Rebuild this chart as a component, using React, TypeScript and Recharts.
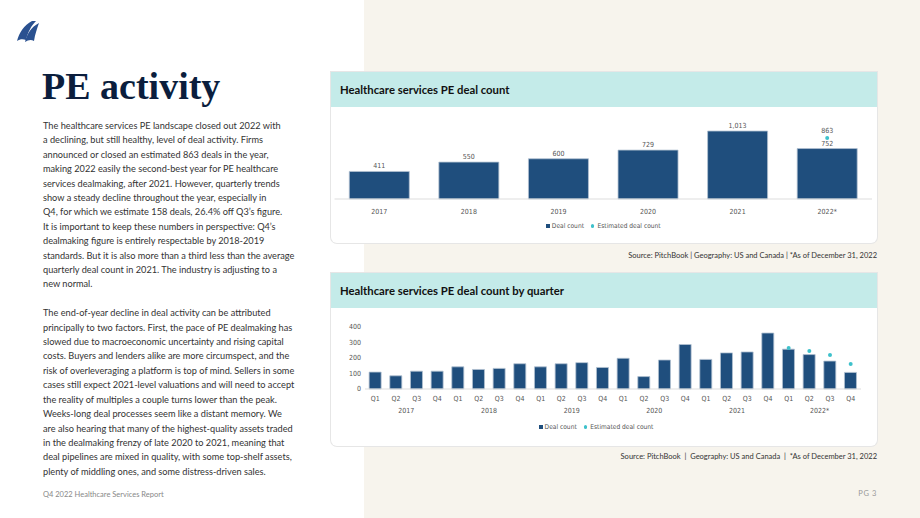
import React from 'react';
import { ComposedChart, Bar, Line, XAxis, YAxis, LabelList, Legend } from 'recharts';

// annual deal count
const years = ['2017', '2018', '2019', '2020', '2021', '2022*'];
const annualDeals = [411, 550, 600, 729, 1013, 752];
const annualEstimated = [null, null, null, null, null, 863];

// quarterly deal count
const quarters = ['Q1', 'Q2', 'Q3', 'Q4'];
const quarterYears = ['2017', '2018', '2019', '2020', '2021', '2022*'];
const quarterlyDeals = [
  109, 85, 115, 115,
  143, 126, 133, 163,
  143, 163, 170, 139,
  198, 80, 187, 287,
  191, 233, 239, 361,
  257, 222, 180, 107,
];
const quarterlyEstimated = [
  null, null, null, null,
  null, null, null, null,
  null, null, null, null,
  null, null, null, null,
  null, null, null, null,
  264, 245, 220, 162,
];
const quarterTicks = [0, 100, 200, 300, 400];

const annualData = years.map((y, i) => ({ year: y, deals: annualDeals[i], est: annualEstimated[i] }));
const quarterData = quarterlyDeals.map((v, i) => ({
  key: quarterYears[Math.floor(i / 4)] + '|' + quarters[i % 4],
  deals: v,
  est: quarterlyEstimated[i],
}));

const NAVY = '#1f4e7d';
const CYAN = '#3ec1cb';
const AXIS_FONT = "'Liberation Sans Narrow', 'DejaVu Sans Condensed', sans-serif";
const BODY_FONT = "Lato, 'Open Sans', sans-serif";

const CARD_W = 546;
const Q_H = 138;
const Q_MARGIN = { top: 19, right: 16, left: 0, bottom: 13 };
const Q_YAXIS_W = 34;
const Q_BAND = (CARD_W - Q_MARGIN.left - Q_MARGIN.right - Q_YAXIS_W) / quarterData.length;

const para1 = [
  'The healthcare services PE landscape closed out 2022 with',
  'a declining, but still healthy, level of deal activity. Firms',
  'announced or closed an estimated 863 deals in the year,',
  'making 2022 easily the second-best year for PE healthcare',
  'services dealmaking, after 2021. However, quarterly trends',
  'show a steady decline throughout the year, especially in',
  'Q4, for which we estimate 158 deals, 26.4% off Q3\u2019s figure.',
  'It is important to keep these numbers in perspective: Q4\u2019s',
  'dealmaking figure is entirely respectable by 2018-2019',
  'standards. But it is also more than a third less than the average',
  'quarterly deal count in 2021. The industry is adjusting to a',
  'new normal.',
];
const para2 = [
  'The end-of-year decline in deal activity can be attributed',
  'principally to two factors. First, the pace of PE dealmaking has',
  'slowed due to macroeconomic uncertainty and rising capital',
  'costs. Buyers and lenders alike are more circumspect, and the',
  'risk of overleveraging a platform is top of mind. Sellers in some',
  'cases still expect 2021-level valuations and will need to accept',
  'the reality of multiples a couple turns lower than the peak.',
  'Weeks-long deal processes seem like a distant memory. We',
  'are also hearing that many of the highest-quality assets traded',
  'in the dealmaking frenzy of late 2020 to 2021, meaning that',
  'deal pipelines are mixed in quality, with some top-shelf assets,',
  'plenty of middling ones, and some distress-driven sales.',
];

// estimated-count marker; lift nudges it clear of the bar label
const EstDot = (props: any) => {
  const { cx, cy, value, lift = 0 } = props;
  if (value == null || cy == null || isNaN(cy)) return null;
  return <circle cx={cx} cy={cy - lift} r={2} fill={CYAN} />;
};

const LegendContent = () => (
  <div style={{ height: 12, display: 'flex', justifyContent: 'center', alignItems: 'center', fontFamily: AXIS_FONT, fontSize: 6.6, color: '#555' }}>
    <span style={{ display: 'inline-block', width: 4, height: 4, background: NAVY, marginRight: 2 }} />
    <span>Deal count</span>
    <span style={{ display: 'inline-block', width: 3.5, height: 3.5, borderRadius: '50%', background: CYAN, marginLeft: 7, marginRight: 3 }} />
    <span>Estimated deal count</span>
  </div>
);

const QuarterTick = (props: any) => {
  const { x, y, payload, index } = props;
  const [yr, q] = String(payload.value).split('|');
  return (
    <g>
      <text x={x} y={y + 10} textAnchor="middle" fontSize={7} fill="#555" fontFamily={AXIS_FONT}>{q}</text>
      {index % 4 === 1 && (
        <text x={x + Q_BAND / 2} y={y + 22} textAnchor="middle" fontSize={7} fill="#555" fontFamily={AXIS_FONT}>{yr}</text>
      )}
    </g>
  );
};

const Card = ({ top, height, title, children }: any) => (
  <div style={{ position: 'absolute', left: 331, top, width: CARD_W, height, background: '#fff', borderRadius: '0 0 6px 6px', boxShadow: '0 0 0 1px #e6e6e6', overflow: 'hidden' }}>
    <div style={{ height: 35, background: '#c4ebe9', display: 'flex', alignItems: 'center', paddingLeft: 9, fontFamily: BODY_FONT, fontWeight: 700, fontSize: 11.3, color: '#111' }}>
      {title}
    </div>
    {children}
  </div>
);

export default function App() {
  return (
    <div style={{ position: 'absolute', left: 0, top: 0, width: 920, height: 518, background: '#fff', overflow: 'hidden' }}>
      <div style={{ position: 'absolute', left: 364, top: 0, width: 556, height: 518, background: '#f7f4ed' }} />

      <svg style={{ position: 'absolute', left: 16, top: 19 }} width={24} height={24} viewBox="0 0 24 24">
        <path d="M1 22 C3 14 8 6 16 2 L20 2 C15 7 12 13 10 21 C7 20 4 20 1 22 Z" fill="#2a5190" />
        <path d="M9 23 C11 15 15 8 23 4 C21 10 19 15 18 22 C15 20 12 21 9 23 Z" fill="#2a5190" />
      </svg>

      <div style={{ position: 'absolute', left: 42, top: 64, fontFamily: "'Liberation Serif', serif", fontWeight: 700, fontSize: 38, color: '#0b1e3d', lineHeight: '44px' }}>
        PE activity
      </div>

      <div style={{ position: 'absolute', left: 43, top: 119, fontFamily: BODY_FONT, fontSize: 9.2, color: '#333', lineHeight: '14.4px', whiteSpace: 'nowrap' }}>
        {para1.map((l, i) => <div key={i}>{l}</div>)}
        <div style={{ height: 14.4 }} />
        {para2.map((l, i) => <div key={'b' + i}>{l}</div>)}
      </div>

      <div style={{ position: 'absolute', left: 43, top: 490, fontFamily: BODY_FONT, fontSize: 7.5, color: '#888' }}>
        Q4 2022 Healthcare Services Report
      </div>
      <div style={{ position: 'absolute', right: 43, top: 489, fontFamily: BODY_FONT, fontSize: 7.5, color: '#999', letterSpacing: 0.6 }}>
        PG 3
      </div>

      <Card top={72} height={171} title="Healthcare services PE deal count">
        <ComposedChart width={CARD_W} height={136} data={annualData} margin={{ top: 11.5, right: 5, left: 3.5, bottom: 11 }} barCategoryGap="16.5%">
          <XAxis dataKey="year" axisLine={{ stroke: '#ddd' }} tickLine={false} tickSize={0} tickMargin={10} height={21} tick={{ fontSize: 7, fill: '#555', fontFamily: AXIS_FONT }} />
          <YAxis hide domain={[0, 1200]} />
          <Legend verticalAlign="bottom" height={12} content={<LegendContent />} />
          <Bar dataKey="deals" fill={NAVY} stroke="#b3c1d2" strokeWidth={0.8} isAnimationActive={false}>
            <LabelList dataKey="deals" position="top" offset={3} formatter={(v: any) => Number(v).toLocaleString('en-US')} style={{ fontSize: 7, fill: '#555', fontFamily: AXIS_FONT }} />
          </Bar>
          <Line dataKey="est" stroke="none" dot={<EstDot lift={3} />} activeDot={false} isAnimationActive={false} legendType="none">
            <LabelList dataKey="est" position="top" offset={8} style={{ fontSize: 7, fill: '#555', fontFamily: AXIS_FONT }} />
          </Line>
        </ComposedChart>
      </Card>
      <div style={{ position: 'absolute', right: 43, top: 251, fontFamily: BODY_FONT, fontSize: 7.5, color: '#333' }}>
        Source: PitchBook | Geography: US and Canada | *As of December 31, 2022
      </div>

      <Card top={273} height={173} title="Healthcare services PE deal count by quarter">
        <ComposedChart width={CARD_W} height={Q_H} data={quarterData} margin={Q_MARGIN} barCategoryGap="20%">
          <XAxis dataKey="key" axisLine={{ stroke: '#ddd' }} tickLine={false} tickSize={0} height={32} interval={0} tick={<QuarterTick />} />
          <YAxis width={Q_YAXIS_W} domain={[0, 400]} ticks={quarterTicks} axisLine={false} tickLine={false} tickSize={0} tickMargin={4} tick={{ fontSize: 7, fill: '#555', fontFamily: AXIS_FONT }} />
          <Legend verticalAlign="bottom" height={12} content={<LegendContent />} />
          <Bar dataKey="deals" fill={NAVY} stroke="#b3c1d2" strokeWidth={0.8} isAnimationActive={false} />
          <Line dataKey="est" stroke="none" dot={<EstDot />} activeDot={false} isAnimationActive={false} legendType="none" />
        </ComposedChart>
      </Card>
      <div style={{ position: 'absolute', right: 43, top: 452, fontFamily: BODY_FONT, fontSize: 7.5, color: '#333', whiteSpace: 'pre' }}>
        {'Source: PitchBook  |  Geography: US and Canada  |  *As of December 31, 2022'}
      </div>
    </div>
  );
}
